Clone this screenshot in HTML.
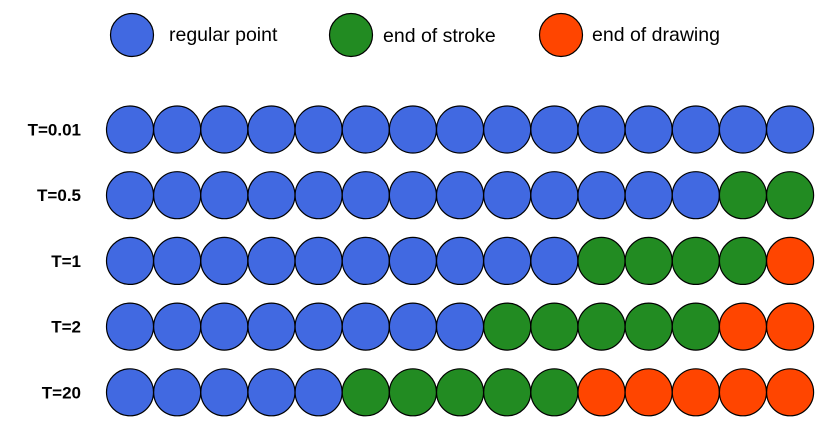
<!DOCTYPE html>
<html><head><meta charset="utf-8"><style>
body{margin:0;background:#fff;}
svg{display:block;font-family:"Liberation Sans",sans-serif;}
</style></head><body>
<svg id="chart" width="836" height="439">
<g>
<circle cx="132" cy="35" r="21.5" fill="#4169e1" stroke="#000" stroke-width="1.2"/>
<text x="169" y="41" font-size="19.5" fill="#000">regular point</text>
<circle cx="351" cy="35" r="21.5" fill="#228b22" stroke="#000" stroke-width="1.2"/>
<text x="383" y="42" font-size="19.5" fill="#000">end of stroke</text>
<circle cx="561" cy="35" r="21.5" fill="#ff4500" stroke="#000" stroke-width="1.2"/>
<text x="592" y="41" font-size="19.5" fill="#000">end of drawing</text>
</g>
<g id="rows"></g>
</svg>
<script>
const rowLabels=["T=0.01","T=0.5","T=1","T=2","T=20"];
const regularCounts=[15,13,10,8,5];
const strokeCounts=[0,2,4,5,5];
const drawingCounts=[0,0,1,2,5];
const colors=["#4169e1","#228b22","#ff4500"];
const x0=130,dx=47.15,y0=129.5,dy=65.7,r=23.5;
const g=document.getElementById('rows');
const NS="http://www.w3.org/2000/svg";
rowLabels.forEach((lab,i)=>{
  const y=y0+i*dy;
  const t=document.createElementNS(NS,'text');
  t.setAttribute('x',81);t.setAttribute('y',y+6);t.setAttribute('text-anchor','end');
  t.setAttribute('font-size','17');t.setAttribute('font-weight','bold');
  t.textContent=lab;
  
  
  g.appendChild(t);
  const kinds=[];
  for(let k=0;k<regularCounts[i];k++)kinds.push(0);
  for(let k=0;k<strokeCounts[i];k++)kinds.push(1);
  for(let k=0;k<drawingCounts[i];k++)kinds.push(2);
  kinds.forEach((kd,j)=>{
    const c=document.createElementNS(NS,'circle');
    c.setAttribute('cx',x0+j*dx);c.setAttribute('cy',y);c.setAttribute('r',r);
    c.setAttribute('fill',colors[kd]);c.setAttribute('stroke','#000');c.setAttribute('stroke-width','1.2');
    
    
    g.appendChild(c);
  });
});
</script>
</body></html>
